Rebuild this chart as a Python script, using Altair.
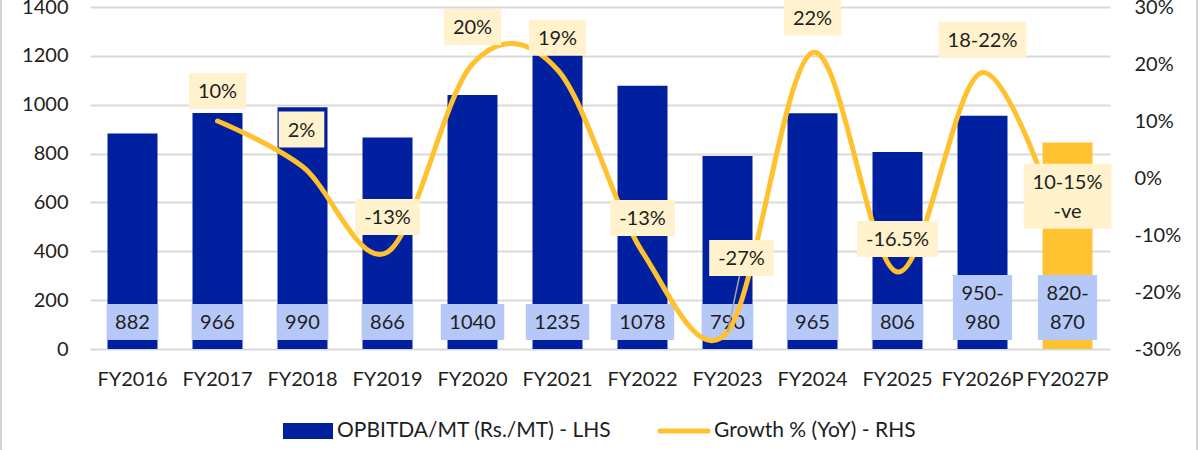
import altair as alt
import pandas as pd

# ---- data -------------------------------------------------------------
categories = ["FY2016", "FY2017", "FY2018", "FY2019", "FY2020", "FY2021",
              "FY2022", "FY2023", "FY2024", "FY2025", "FY2026P", "FY2027P"]
opbitda = [882, 966, 990, 866, 1040, 1235, 1078, 790, 965, 806, 955, 845]
opbitda_text = ["882", "966", "990", "866", "1040", "1235", "1078", "790",
                "965", "806", "950-\n980", "820-\n870"]
growth = [None, 10, 2, -13, 20, 19, -13, -27, 22, -16.5, 18.5, -12.5]
growth_text = [None, "10%", "2%", "-13%", "20%", "19%", "-13%", "-27%",
               "22%", "-16.5%", "18-22%", "10-15%\n-ve"]
projected = [False] * 11 + [True]

left_ticks = [0, 200, 400, 600, 800, 1000, 1200, 1400]
right_ticks = [-30, -20, -10, 0, 10, 20, 30]

# ---- styling ----------------------------------------------------------
FONT = "Lato"
FS = 20
BLUE = "#00209F"
GOLD = "#FFC331"
LINE = "#FFC12E"
BAR_BOX = "#B6C8F8"
GROWTH_BOX = "#FFF2CC"
TEXT = "#1E1E1E"
GRID = "#D9D9D9"
LH = 29  # line height of two-line labels

# label placement relative to each growth point (pixels)
growth_dx = [0, 0, -1, 0, 0, 0, 0, 14, 0, 0, 0, 0]
growth_dy = [0, -30, -37, -35, -37, -32, -34, -74, -35, -33, -33, -53]

CHAR_EM = {"%": 0.8, "-": 0.37, ".": 0.25, "v": 0.52, "e": 0.52}


def text_px(s, size=FS):
    return max(sum(CHAR_EM.get(c, 0.58) for c in line) for line in s.split("\n")) * size


def n_lines(s):
    return s.count("\n") + 1


def box_h(s):
    return 36 + LH * (n_lines(s) - 1)


df = pd.DataFrame({
    "cat": categories,
    "opbitda": opbitda,
    "otext": opbitda_text,
    "growth": growth,
    "gtext": growth_text,
    "color": [GOLD if p else BLUE for p in projected],
})

x_scale = alt.Scale(domain=categories, paddingInner=0.41, paddingOuter=0.205)
x_axis = alt.Axis(labelAngle=0, labelFont=FONT, labelFontSize=FS,
                  labelColor=TEXT, ticks=False, domain=False, labelPadding=20)
X = alt.X("cat:N", scale=x_scale, sort=categories, title=None, axis=x_axis)

y_left = alt.Scale(domain=[0, 1400], nice=False)
y_right = alt.Scale(domain=[-30, 30], nice=False)
right_axis = alt.Axis(values=right_ticks, orient="right", labelFont=FONT,
                      labelFontSize=FS, labelColor=TEXT, ticks=False,
                      domain=False, grid=False, labelPadding=24,
                      labelExpr="datum.value + '%'")
YR = alt.Y("growth:Q", scale=y_right, title=None, axis=right_axis)

base = alt.Chart(df)

bars = base.mark_bar(size=50).encode(
    x=X,
    y=alt.Y("opbitda:Q", scale=y_left, title=None,
            axis=alt.Axis(values=left_ticks, orient="left", labelFont=FONT,
                          labelFontSize=FS, labelColor=TEXT, ticks=False,
                          domain=False, gridColor=GRID, gridWidth=2,
                          labelPadding=22, format="d")),
    color=alt.Color("color:N", scale=None),
)

# value boxes along the bottom of each bar
BOX_BOTTOM = 333
bar_boxes = []
bar_texts = []
for cat, t in zip(categories, opbitda_text):
    h = box_h(t)
    w = text_px(t) + 17
    row = df[df["cat"] == cat]
    bar_boxes.append(
        alt.Chart(row).mark_rect(width=w, color=BAR_BOX).encode(
            x=X,
            y=alt.value(BOX_BOTTOM - h),
            y2=alt.value(BOX_BOTTOM),
        )
    )
    bar_texts.append(
        alt.Chart(row).mark_text(
            font=FONT, fontSize=FS, color=TEXT, lineBreak="\n", lineHeight=LH,
            baseline="middle").encode(
            x=X,
            y=alt.value(BOX_BOTTOM - h / 2 + 1 - (n_lines(t) - 1) * LH / 2),
            text="otext:N",
        )
    )

left_layer = alt.layer(bars, *bar_boxes, *bar_texts)

gdf = df.dropna(subset=["growth"])

line = alt.Chart(gdf).mark_line(
    color=LINE, strokeWidth=5, interpolate="cardinal", tension=0,
    strokeCap="round").encode(x=X, y=YR)

growth_layers = []
for i, (cat, t) in enumerate(zip(categories, growth_text)):
    if t is None:
        continue
    h = box_h(t)
    w = text_px(t) + 18
    row = df[df["cat"] == cat]
    growth_layers.append(
        alt.Chart(row).mark_rect(width=w, height=h, color=GROWTH_BOX,
                                 xOffset=growth_dx[i], yOffset=growth_dy[i]).encode(
            x=X, y=YR)
    )
    growth_layers.append(
        alt.Chart(row).mark_text(
            font=FONT, fontSize=FS, color=TEXT, lineBreak="\n", lineHeight=LH,
            baseline="middle", dx=growth_dx[i],
            dy=growth_dy[i] - (n_lines(t) - 1) * LH / 2 + 1).encode(
            x=X, y=YR, text="gtext:N")
    )

# leader from the FY2023 label down to its point
lead_i = categories.index("FY2023")
leader = alt.Chart(df[df["cat"] == "FY2023"]).mark_rule(
    color="#A6A6A6", strokeWidth=1.5,
    y2Offset=growth_dy[lead_i] + box_h(growth_text[lead_i]) / 2,
    x2Offset=12).encode(
    x=X,
    x2="cat:N",
    y=YR,
    y2="growth:Q",
)

right_layer = alt.layer(line, leader, *growth_layers)

# ---- legend -----------------------------------------------------------
one = pd.DataFrame({"k": [0]})
LFS = 21
legend_rect = alt.Chart(one).mark_rect(color=BLUE).encode(
    x=alt.value(193), x2=alt.value(243), y=alt.value(416), y2=alt.value(432))
legend_t1 = alt.Chart(one).mark_text(
    font=FONT, fontSize=LFS, color=TEXT, align="left", baseline="middle",
    text="OPBITDA/MT (Rs./MT) - LHS").encode(x=alt.value(247), y=alt.value(424))
legend_line = alt.Chart(one).mark_rule(
    color=LINE, strokeWidth=5, strokeCap="round").encode(
    x=alt.value(570), x2=alt.value(618), y=alt.value(424))
legend_t2 = alt.Chart(one).mark_text(
    font=FONT, fontSize=LFS, color=TEXT, align="left", baseline="middle",
    text="Growth % (YoY) - RHS").encode(x=alt.value(624), y=alt.value(424))

# thin frame lines at the chart's sides
frame_l = alt.Chart(one).mark_rule(color="#D4D4D4", strokeWidth=2).encode(
    x=alt.value(-89), y=alt.value(-7), y2=alt.value(443))
frame_r = alt.Chart(one).mark_rule(color="#D4D4D4", strokeWidth=2).encode(
    x=alt.value(1107), y=alt.value(-7), y2=alt.value(443))

chart = alt.layer(
    left_layer, right_layer,
    legend_rect, legend_t1, legend_line, legend_t2, frame_l, frame_r,
).resolve_scale(y="independent").properties(
    width=1020, height=342,
    autosize=alt.AutoSizeParams(type="none"),
    padding={"left": 90, "top": 7, "right": 90, "bottom": 101},
    background="white",
).configure_view(stroke=None)

chart.save("out.html", embed_options={"renderer": "svg", "actions": False})
